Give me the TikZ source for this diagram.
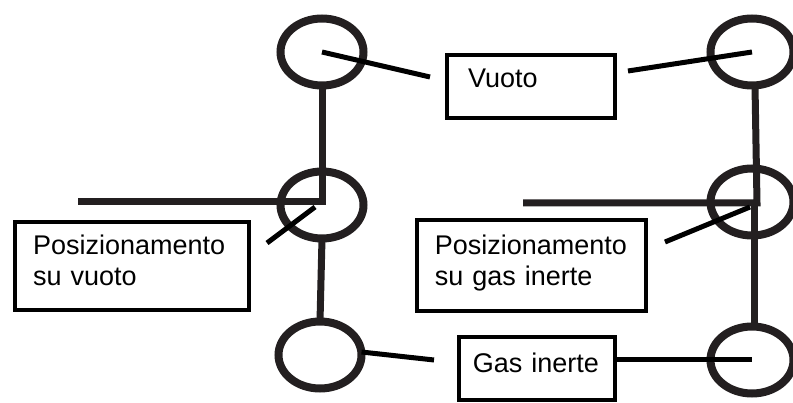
\documentclass[tikz,border=0pt]{standalone}
\usepackage{fontspec}
\setmainfont{Liberation Sans}
\usetikzlibrary{shapes.geometric}

\definecolor{pipecol}{RGB}{35,31,32}

\begin{document}
\begin{tikzpicture}[
x=1pt, y=-1pt,
every node/.style={font=\fontsize{27}{31}\selectfont},
valve/.style={ellipse, draw=pipecol, line width=8pt, minimum width=83pt, minimum height=67pt, inner sep=0pt, outer sep=0pt},
pipe/.style={draw=pipecol, line width=7pt},
labelbox/.style={draw, line width=4pt, anchor=north west, align=left, inner ysep=0pt, outer sep=0pt},
pointer/.style={line width=5pt}
]

\useasboundingbox (0,0) rectangle (793,403);


\foreach \nm/\x/\y in {lt/322/52, lm/322/205, lb/320/355, rt/752/52, rm/752/202, rb/752/360} {
\node[valve] (\nm) at (\x, \y) {};
}


\coordinate (lcorner) at (322, 202);
\coordinate (lend) at (78, 202);
\draw[pipe] (lt.south) -- (lcorner) -- (lend);
\draw[pipe] (lm.south) -- (lb.north);

\coordinate (rcorner) at (757, 203);
\coordinate (rend) at (523, 203);
\draw[pipe] ([xshift=3pt]rt.south) -- (rcorner) -- (rend);
\draw[pipe] ([xshift=-3pt]rcorner) -- ([xshift=2pt]rb.north);


\node[labelbox, inner xsep=21.25pt, text width=126pt, text height=33.25pt, text depth=30.25pt] (vuoto) at (446.75, 54.75) {Vuoto};

\node[labelbox, inner xsep=18.25pt, text width=198pt, text height=33.25pt, text depth=55.25pt] (posvuoto) at (14.75, 221.75) {Posizionamento\\su vuoto};

\node[labelbox, inner xsep=18pt, text width=193.5pt, text height=35.25pt, text depth=56.25pt] (posgas) at (416.75, 219.75) {Posizionamento\\su gas inerte};

\node[labelbox, inner xsep=14pt, text width=128.5pt, text height=36.25pt, text depth=27.25pt] (gas) at (458.75, 336.75) {Gas inerte};


\coordinate (pv1) at (430, 77);
\coordinate (pv2) at (628, 71);
\coordinate (pp1) at (267, 243);
\coordinate (pp2) at (665, 242);
\coordinate (pg1) at (434, 360);
\coordinate (pg2) at (614, 360);

\draw[pointer] (pv1) -- (lt.center);
\draw[pointer] (pv2) -- (rt.center);
\draw[pointer] (pp1) -- ([xshift=-7pt, yshift=-2pt]lm.center);
\draw[pointer] (pp2) -- ([xshift=-2pt, yshift=-5pt]rm.center);
\draw[pointer] (pg1) -- ([yshift=3pt]lb.east);
\draw[pointer] (pg2) -- (rb.center);

\end{tikzpicture}
\end{document}
